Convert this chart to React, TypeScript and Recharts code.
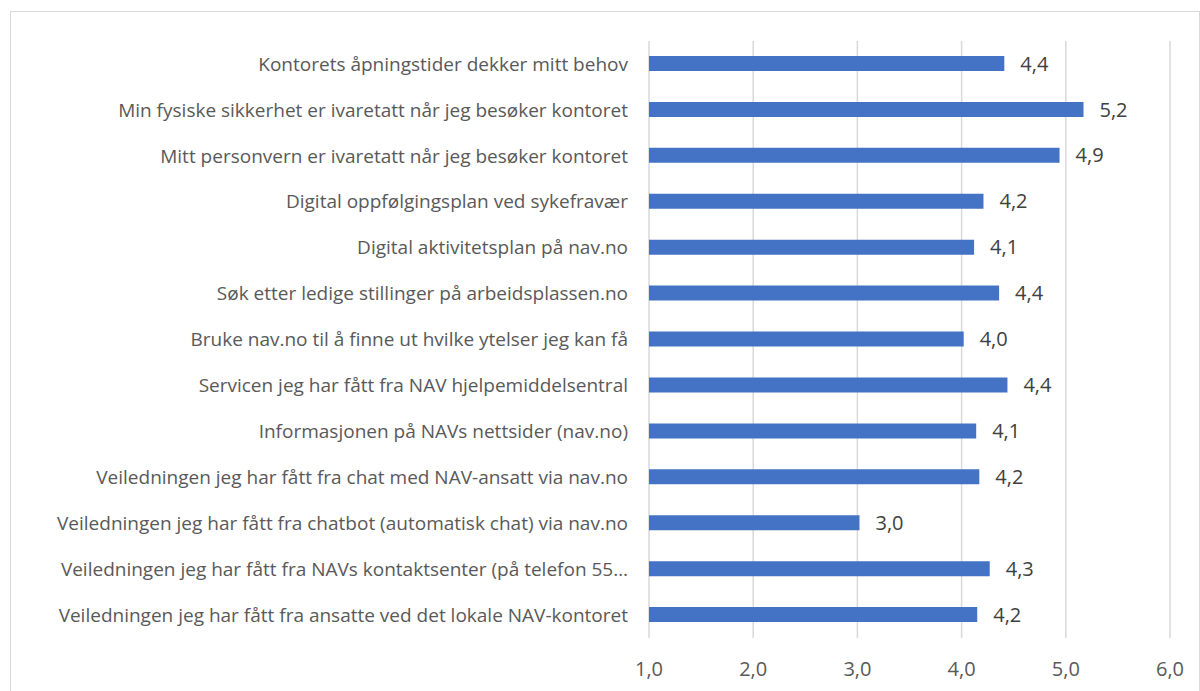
import React from "react";
import { BarChart, Bar, XAxis, YAxis, CartesianGrid, LabelList } from "recharts";

const categories = [
  "Kontorets åpningstider dekker mitt behov",
  "Min fysiske sikkerhet er ivaretatt når jeg besøker kontoret",
  "Mitt personvern er ivaretatt når jeg besøker kontoret",
  "Digital oppfølgingsplan ved sykefravær",
  "Digital aktivitetsplan på nav.no",
  "Søk etter ledige stillinger på arbeidsplassen.no",
  "Bruke nav.no til å finne ut hvilke ytelser jeg kan få",
  "Servicen jeg har fått fra NAV hjelpemiddelsentral",
  "Informasjonen på NAVs nettsider (nav.no)",
  "Veiledningen jeg har fått fra chat med NAV-ansatt via nav.no",
  "Veiledningen jeg har fått fra chatbot (automatisk chat) via nav.no",
  "Veiledningen jeg har fått fra NAVs kontaktsenter (på telefon 55…",
  "Veiledningen jeg har fått fra ansatte ved det lokale NAV-kontoret",
];

const scores = [4.41, 5.17, 4.94, 4.21, 4.12, 4.36, 4.02, 4.44, 4.14, 4.17, 3.02, 4.27, 4.15];

const xTicks = [1, 2, 3, 4, 5, 6];

const data = categories.map((name, i) => ({ name, score: scores[i] }));

const comma = (v: number) => v.toFixed(1).replace(".", ",");

export default function App() {
  return (
    <div
      style={{
        position: "absolute",
        left: 0,
        top: 0,
        width: 1200,
        height: 691,
        background: "#fff",
        overflow: "hidden",
        fontFamily: "'Open Sans', sans-serif",
      }}
    >
      <div
        style={{
          position: "absolute",
          left: 10,
          top: 11,
          width: 1188,
          height: 720,
          border: "1px solid #d9d9d9",
        }}
      />
      <div style={{ position: "absolute", left: 0, top: 0 }}>
        <BarChart
          width={1200}
          height={691}
          data={data}
          layout="vertical"
          margin={{ top: 41, right: 30, bottom: 0, left: 0 }}
        >
          <CartesianGrid horizontal={false} stroke="#d9d9d9" strokeWidth={1.5} />
          <XAxis
            type="number"
            domain={[1, 6]}
            ticks={xTicks}
            tickFormatter={comma}
            axisLine={false}
            tickLine={false}
            tickSize={0}
            tickMargin={24}
            height={53}
            tick={{ fill: "#595959", fontSize: 20 }}
          />
          <YAxis
            type="category"
            dataKey="name"
            width={649}
            axisLine={false}
            tickLine={false}
            tickSize={0}
            tickMargin={21}
            interval={0}
            tick={{ fill: "#595959", fontSize: 19 }}
          />
          <Bar dataKey="score" fill="#4472C4" barSize={15} isAnimationActive={false}>
            <LabelList
              dataKey="score"
              position="right"
              offset={16}
              formatter={(v: any) => comma(Number(v))}
              style={{ fill: "#404040", fontSize: 20 }}
            />
          </Bar>
        </BarChart>
      </div>
    </div>
  );
}
